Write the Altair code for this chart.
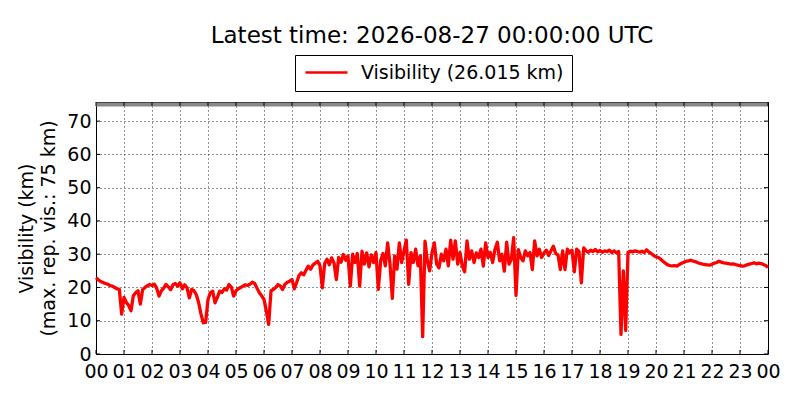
import altair as alt
import pandas as pd

TITLE = "Latest time: 2026-08-27 00:00:00 UTC"
SERIES = "Visibility (26.015 km)"
Y_TITLE = ["Visibility (km)", "(max. rep. vis.: 75 km)"]
MAX_REP_VIS = 75
Y_TOP = 75.75
STEP_MIN = 5
X_TICKS = list(range(0, 25))
Y_TICKS = list(range(0, 71, 10))

# visibility (km), one value every 5 minutes, one row per hour
h00 = [22.9, 22.3, 21.8, 21.5, 21.2, 21.0, 20.6, 20.4, 20.0, 19.6, 19.4, 12.0]
h01 = [17.0, 15.5, 14.6, 13.0, 17.5, 18.4, 19.0, 15.0, 19.4, 20.0, 20.5, 20.9]
h02 = [20.6, 21.0, 19.8, 17.4, 19.0, 19.8, 20.9, 20.2, 19.3, 20.8, 21.2, 20.4]
h03 = [21.4, 19.6, 20.8, 19.9, 16.9, 19.4, 19.0, 17.8, 15.4, 12.0, 9.4, 9.5]
h04 = [16.4, 18.4, 18.9, 15.4, 17.0, 18.9, 18.5, 19.6, 19.2, 20.9, 20.1, 17.4]
h05 = [19.0, 19.6, 20.0, 20.4, 20.8, 20.6, 21.0, 21.6, 21.2, 19.8, 18.4, 17.5]
h06 = [16.4, 12.9, 8.9, 19.0, 19.4, 20.0, 20.9, 20.4, 19.4, 21.0, 21.6, 21.9]
h07 = [22.4, 19.6, 21.5, 23.6, 24.4, 23.8, 25.2, 26.4, 25.5, 26.8, 27.3, 27.9]
h08 = [26.5, 19.9, 27.2, 28.5, 26.8, 28.9, 27.4, 22.4, 29.0, 27.6, 29.9, 28.2]
h09 = [29.5, 20.4, 30.0, 27.5, 30.2, 20.4, 30.9, 27.0, 30.4, 26.2, 29.8, 27.5]
h10 = [30.5, 19.4, 28.0, 30.2, 26.5, 33.4, 27.0, 16.7, 29.5, 25.5, 33.4, 27.5]
h11 = [31.0, 34.2, 20.9, 30.5, 27.5, 31.5, 26.5, 29.5, 5.2, 33.9, 28.0, 25.0]
h12 = [30.5, 33.4, 27.0, 25.9, 30.0, 28.0, 31.5, 26.5, 34.2, 28.5, 34.0, 27.0]
h13 = [30.5, 26.4, 24.7, 34.0, 28.5, 31.0, 27.5, 30.4, 29.0, 31.5, 26.4, 33.4]
h14 = [29.0, 30.5, 27.5, 31.5, 33.6, 28.0, 30.0, 24.9, 33.6, 27.0, 28.4, 35.0]
h15 = [17.6, 31.4, 29.0, 28.0, 31.0, 29.5, 30.5, 25.4, 34.0, 29.5, 31.5, 29.0]
h16 = [30.4, 31.2, 29.6, 31.0, 32.4, 30.2, 29.8, 25.4, 31.0, 25.4, 31.5, 30.5]
h17 = [31.2, 24.7, 31.5, 30.8, 21.4, 31.9, 31.0, 30.6, 31.2, 30.8, 31.4, 30.7]
h18 = [31.1, 30.6, 31.0, 30.8, 31.2, 30.5, 31.0, 30.4, 30.8, 5.9, 25.0, 7.1]
h19 = [30.5, 30.9, 30.7, 31.0, 30.8, 30.6, 30.9, 30.5, 31.3, 30.6, 30.2, 29.6]
h20 = [29.2, 29.0, 28.5, 27.9, 27.3, 26.8, 26.6, 26.5, 26.6, 26.4, 26.9, 27.3]
h21 = [27.6, 27.9, 28.0, 28.2, 27.9, 27.7, 27.4, 27.2, 27.0, 26.9, 26.8, 26.7]
h22 = [27.0, 27.3, 27.5, 27.9, 27.6, 27.4, 27.3, 27.2, 27.0, 27.1, 26.9, 26.7]
h23 = [26.6, 26.4, 26.5, 26.8, 27.0, 27.2, 27.4, 27.1, 27.3, 27.2, 26.9, 26.6]
h24 = [26.0]

rows = [h00, h01, h02, h03, h04, h05, h06, h07, h08, h09, h10, h11,
        h12, h13, h14, h15, h16, h17, h18, h19, h20, h21, h22, h23, h24]
values = [v for row in rows for v in row]
df = pd.DataFrame({
    "hour": [i * STEP_MIN / 60 for i in range(len(values))],
    "vis": values,
    "series": SERIES,
})
ref_df = pd.DataFrame({"vis": [MAX_REP_VIS]})
xt_df = pd.DataFrame({"hour": X_TICKS})
yt_df = pd.DataFrame({"vis": Y_TICKS})

FONT = "DejaVu Sans"
FS = 19
W, H = 672, 252
TICK = 4

x = alt.X(
    "hour:Q",
    scale=alt.Scale(domain=[0, 24], nice=False, zero=False),
    axis=alt.Axis(
        values=X_TICKS,
        labelExpr="datum.value == 24 ? '00' : (datum.value < 10 ? '0' + datum.value : '' + datum.value)",
        title=None,
        labelPadding=8,
    ),
)
y = alt.Y(
    "vis:Q",
    scale=alt.Scale(domain=[0, Y_TOP], nice=False),
    axis=alt.Axis(values=Y_TICKS, title=Y_TITLE, labelPadding=5, titlePadding=8),
)

line = alt.Chart(df).mark_line(strokeWidth=3.3, strokeJoin="round").encode(
    x=x,
    y=y,
    color=alt.Color(
        "series:N",
        scale=alt.Scale(range=["#ff0000"]),
        legend=alt.Legend(
            title=None,
            orient="none",
            legendX=199,
            legendY=-47,
            symbolType="M-3,0L3,0",
            symbolSize=196,
            symbolOffset=14,
            symbolStrokeWidth=2.6,
            symbolStrokeColor="#ff0000",
            labelFontSize=FS,
            labelFont=FONT,
            labelColor="black",
            labelOffset=25,
            labelLimit=0,
            strokeColor="black",
            fillColor="white",
            padding=8,
            cornerRadius=0,
        ),
    ),
)

ref = alt.Chart(ref_df).mark_rule(color="#888888", strokeWidth=4).encode(y=y)

# inward tick marks on all four sides (matplotlib classic look)
xt_bottom = alt.Chart(xt_df).mark_rule(color="black", strokeWidth=1).encode(
    x=x, y=alt.value(H), y2=alt.value(H - TICK))
xt_top = alt.Chart(xt_df).mark_rule(color="black", strokeWidth=1).encode(
    x=x, y=alt.value(0), y2=alt.value(TICK))
yt_left = alt.Chart(yt_df).mark_rule(color="black", strokeWidth=1).encode(
    y=y, x=alt.value(0), x2=alt.value(TICK))
yt_right = alt.Chart(yt_df).mark_rule(color="black", strokeWidth=1).encode(
    y=y, x=alt.value(W), x2=alt.value(W - TICK))

chart = (
    alt.layer(ref, line, xt_bottom, xt_top, yt_left, yt_right)
    .properties(
        width=W,
        height=H,
        autosize=alt.AutoSizeParams(type="none"),
        padding={"left": 88, "top": 94, "right": 24, "bottom": 40},
        title=alt.TitleParams(
            TITLE, font=FONT, fontSize=23, fontWeight="normal", color="black",
            anchor="middle", offset=7,
        ),
    )
    .configure_view(stroke="black", strokeWidth=1)
    .configure_axis(
        domain=False,
        ticks=False,
        tickSize=0,
        grid=True,
        gridColor="black",
        gridDash=[1, 3],
        gridWidth=1,
        gridOpacity=0.85,
        labelFont=FONT,
        labelFontSize=FS,
        labelColor="black",
        labelOverlap=False,
        labelFlush=False,
        titleFont=FONT,
        titleFontSize=FS,
        titleFontWeight="normal",
        titleColor="black",
        titleLineHeight=22,
    )
)

chart.save("out.html", embed_options={"renderer": "svg", "actions": False})
